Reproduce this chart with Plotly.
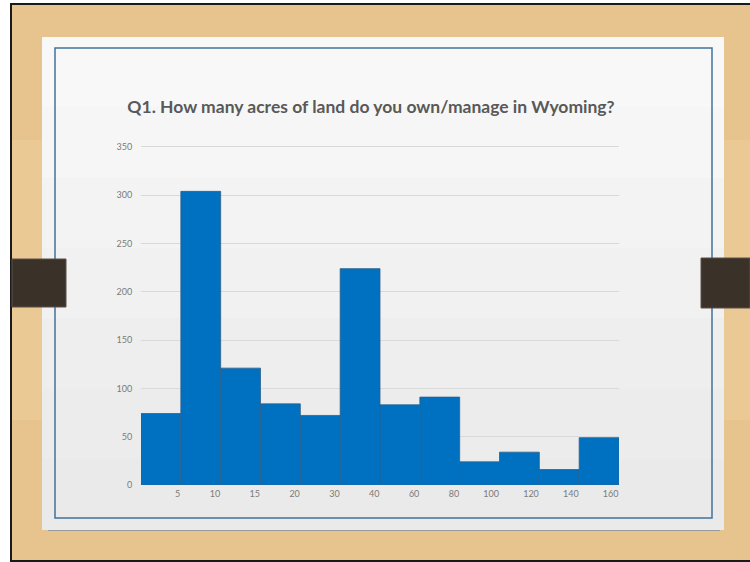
import plotly.graph_objects as go

# horní hranice intervalů (akry) a počty odpovědí
bin_labels = ["5", "10", "15", "20", "30", "40", "60", "80", "100", "120", "140", "160"]
counts = [74, 304, 121, 84, 72, 224, 83, 91, 24, 34, 16, 49]
y_ticks = [0, 50, 100, 150, 200, 250, 300, 350]

title = "Q1. How many acres of land do you own/manage in Wyoming?"

# oblast grafu v pixelech (pro převod tvarů pozadí do souřadnic "paper")
PL, PR, PT, PB = 141, 619, 145, 485
W, H = 750, 562


def px(x):
    return (x - PL) / (PR - PL)


def py(y):
    return (PB - y) / (PB - PT)


def rect(x0, y0, x1, y1, fill, line=None, lw=0):
    return dict(type="rect", xref="paper", yref="paper", layer="below",
                x0=px(x0), x1=px(x1), y0=py(y1), y1=py(y0),
                fillcolor=fill, line=dict(color=line or fill, width=lw))


shapes = [
    rect(0, 0, W, H, "#ffffff"),
    rect(10, 3, W, H, "#1a1a1a"),
    rect(12, 5, W, 560, "#e7c48e"),
    rect(12, 140, W, 420, "#ebc994"),
    rect(48, 528, 720, 531, "#9a9a9a"),
]
# panel snímku - jemný přechod od bílé ke světle šedé
bands = ["#f8f8f8", "#f6f6f6", "#f3f3f3", "#f1f1f1", "#eeeeee", "#ececec", "#eaeaea"]
top, bottom = 37, 529
step = (bottom - top) / len(bands)
for i, c in enumerate(bands):
    shapes.append(rect(42, top + i * step, 724, top + (i + 1) * step + 1, c))
shapes.append(dict(type="rect", xref="paper", yref="paper", layer="below",
                   x0=px(55), x1=px(712), y0=py(518), y1=py(48),
                   fillcolor="rgba(0,0,0,0)", line=dict(color="#41729c", width=1.5)))
# tmavé "klipy" po stranách
shapes.append(rect(12, 259, 66, 307, "#3a3129", "#5a5149", 1))
shapes.append(rect(701, 258, W, 308, "#3a3129", "#5a5149", 1))

x_pos = [i + 0.5 for i in range(len(counts))]
tick_pos = [i + 1 for i in range(len(bin_labels))]

fig = go.Figure(go.Bar(
    x=x_pos, y=counts, width=1,
    marker=dict(color="#0070c0", line=dict(color="#2d5f8c", width=0.8)),
))

fig.update_layout(
    width=W, height=H,
    margin=dict(l=PL, r=W - PR, t=PT, b=H - PB),
    paper_bgcolor="#ffffff",
    plot_bgcolor="rgba(0,0,0,0)",
    showlegend=False,
    shapes=shapes,
    font=dict(family="Lato, 'Open Sans', sans-serif", color="#7a7a7a", size=9),
    title=dict(text=f"<b>{title}</b>", x=371 / W, xanchor="center",
               y=1 - 107 / H, yanchor="middle",
               font=dict(family="Lato, 'Open Sans', sans-serif", size=17.5, color="#595959")),
)
fig.update_xaxes(range=[0, len(counts)], tickvals=tick_pos, ticktext=bin_labels,
                 ticklabelposition="outside left", ticks="outside", ticklen=6,
                 tickcolor="rgba(0,0,0,0)", showgrid=False, zeroline=False,
                 showline=False, fixedrange=True)
fig.update_yaxes(range=[0, 352], tickvals=y_ticks, gridcolor="#d9d9d9", gridwidth=1,
                 ticks="outside", ticklen=6, tickcolor="rgba(0,0,0,0)",
                 zeroline=False, showline=False, fixedrange=True)

# bez okraje stránky, aby obrázek seděl přesně do okna
fig.write_html("out.html", post_script="document.body.style.margin='0';",
               config={"displayModeBar": False})
